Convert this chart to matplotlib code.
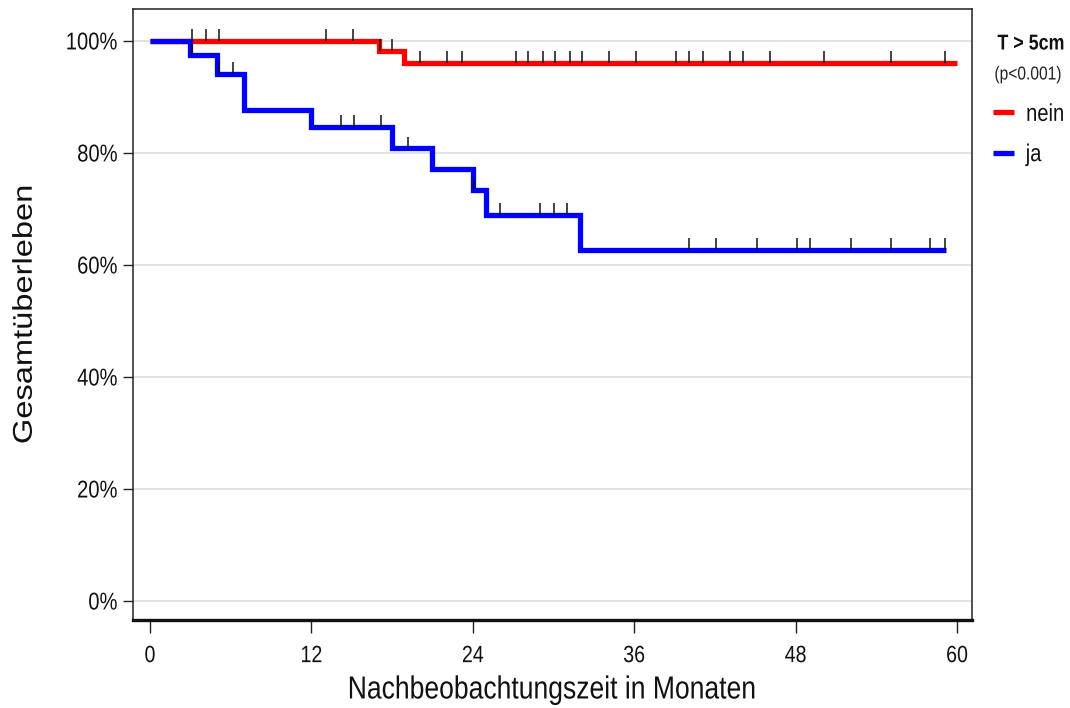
import numpy as np
import matplotlib
matplotlib.use("Agg")
import matplotlib.pyplot as plt
import matplotlib.patheffects as pe
from matplotlib.transforms import Affine2D
from matplotlib.lines import Line2D

# ---- data ----
# Kaplan-Meier steps: event times and survival after each event (%)
nein_times = [0.0, 17.0, 18.9]
nein_surv = [100.0, 98.2, 96.1]
nein_end = 60.0
nein_censor = [3.1, 4.2, 5.1, 13.1, 15.1, 17.1, 18.0, 20.1, 22.1, 23.2, 27.2,
               28.1, 29.2, 30.1, 31.2, 32.1, 34.1, 36.1, 39.1, 40.1, 41.1,
               43.1, 44.1, 46.1, 50.1, 55.1, 59.1]

ja_times = [0.0, 3.0, 5.0, 7.0, 12.0, 18.0, 21.0, 24.0, 25.0, 32.0]
ja_surv = [100.0, 97.4, 94.1, 87.7, 84.7, 80.8, 77.1, 73.3, 68.9, 62.7]
ja_end = 59.2
ja_censor = [3.1, 5.1, 6.2, 14.2, 15.2, 17.2, 19.2, 24.1, 26.0, 29.0, 30.0,
             31.0, 40.1, 42.1, 45.1, 48.1, 49.1, 52.1, 55.1, 58.0, 59.1]

groups = ["nein", "ja"]
colors = {"nein": "#FF0000", "ja": "#0000FF"}
x_ticks = [0, 12, 24, 36, 48, 60]
y_ticks = [0, 20, 40, 60, 80, 100]
legend_title = "T > 5cm"
p_text = "(p<0.001)"
x_label = "Nachbeobachtungszeit in Monaten"
y_label = "Gesamtüberleben"

FONT = ["Liberation Sans", "DejaVu Sans"]
SQ = 0.83  # the reference text is horizontally condensed


class Squeeze(pe.AbstractPathEffect):
    """Condense glyphs along one local axis (text stays real text)."""

    def __init__(self, sx=1.0, sy=1.0, ax_anchor=0.5, ay_anchor=0.5):
        super().__init__()
        self.sx, self.sy = sx, sy
        self.axa, self.aya = ax_anchor, ay_anchor

    def draw_path(self, renderer, gc, tpath, affine, rgbFace=None):
        ext = tpath.get_extents()
        cx = ext.x0 + self.axa * (ext.x1 - ext.x0)
        cy = ext.y0 + self.aya * (ext.y1 - ext.y0)
        t = (Affine2D().translate(-cx, -cy).scale(self.sx, self.sy)
             .translate(cx, cy) + affine)
        renderer.draw_path(gc, tpath, t, rgbFace)


fig = plt.figure(figsize=(10.70, 7.08), dpi=100)
ax = fig.add_axes([133 / 1070, 1 - 620 / 708, (972 - 133) / 1070, (620 - 9) / 708])

ax.set_xlim(-1.26, 61.11)
ax.set_ylim(-3.39, 105.7)

# grid
for yt in y_ticks:
    ax.axhline(yt, color="#E3E3E3", lw=1.4, zorder=0)


def step_arrays(times, surv, end):
    xs = list(times) + [end]
    ys = list(surv) + [surv[-1]]
    return xs, ys


def level_at(times, surv, t):
    idx = np.searchsorted(np.array(times), t, side="right") - 1
    return np.array(surv)[idx]


data = {
    "nein": (nein_times, nein_surv, nein_end, nein_censor),
    "ja": (ja_times, ja_surv, ja_end, ja_censor),
}

handles = []
for z, g in enumerate(groups):
    times, surv, end, cens = data[g]
    xs, ys = step_arrays(times, surv, end)
    ax.step(xs, ys, where="post", color=colors[g], lw=3.8,
            solid_joinstyle="miter", solid_capstyle="butt", zorder=2 + z)
    handles.append(Line2D([0], [0], color=colors[g], lw=3.8, solid_capstyle="butt"))

for g in groups:
    times, surv, end, cens = data[g]
    lv = level_at(times, surv, np.array(cens))
    ax.vlines(cens, lv, lv + 2.1, color="#111111", lw=1.1, zorder=5)

# spines
for s in ["left", "top", "right"]:
    ax.spines[s].set_linewidth(1.1)
    ax.spines[s].set_color("#222222")
ax.spines["bottom"].set_linewidth(2.4)
ax.spines["bottom"].set_color("#111111")

ax.set_xticks(x_ticks)
ax.set_xticklabels([str(v) for v in x_ticks])
ax.set_yticks(y_ticks)
ax.set_yticklabels([f"{v}%" for v in y_ticks])
ax.tick_params(axis="y", length=7.5, width=1.0, color="#222222", pad=3.5)
ax.tick_params(axis="x", length=9.6, width=1.0, color="#222222", pad=8.5)
for lab in ax.get_xticklabels():
    lab.set_family(FONT)
    lab.set_fontsize(17)
    lab.set_color("#111111")
    lab.set_path_effects([Squeeze(sx=SQ, ax_anchor=0.5)])
for lab in ax.get_yticklabels():
    lab.set_family(FONT)
    lab.set_fontsize(17.5)
    lab.set_color("#111111")
    lab.set_path_effects([Squeeze(sx=SQ, ax_anchor=1.0)])

xl = ax.set_xlabel(x_label, family=FONT, fontsize=23, color="#111111", labelpad=6)
xl.set_path_effects([Squeeze(sx=SQ, ax_anchor=0.5)])
yl = ax.set_ylabel(y_label, family=FONT, fontsize=23.5, color="#111111", labelpad=12)
yl.set_path_effects([Squeeze(sy=SQ, ay_anchor=0.0)])

# legend
t1 = fig.text(1031 / 1070, 1 - 44 / 708, legend_title, family=FONT, fontweight="bold",
              fontsize=15.5, ha="center", va="center", color="#111111")
t1.set_path_effects([Squeeze(sx=SQ, ax_anchor=0.5)])
t2 = fig.text(1028 / 1070, 1 - 75 / 708, p_text, family=FONT,
              fontsize=13.5, ha="center", va="center", color="#222222")
t2.set_path_effects([Squeeze(sx=SQ, ax_anchor=0.5)])
leg = fig.legend(handles, groups, loc="center left",
                 bbox_to_anchor=(993 / 1070, 1 - 135 / 708),
                 frameon=False, borderpad=0, borderaxespad=0,
                 handlelength=0.85, handletextpad=0.5, labelspacing=0.75,
                 prop={"family": FONT, "size": 17.5})
for t in leg.get_texts():
    t.set_color("#111111")
    t.set_path_effects([Squeeze(sx=SQ, ax_anchor=0.0)])

fig.savefig("out.png", dpi=100)
